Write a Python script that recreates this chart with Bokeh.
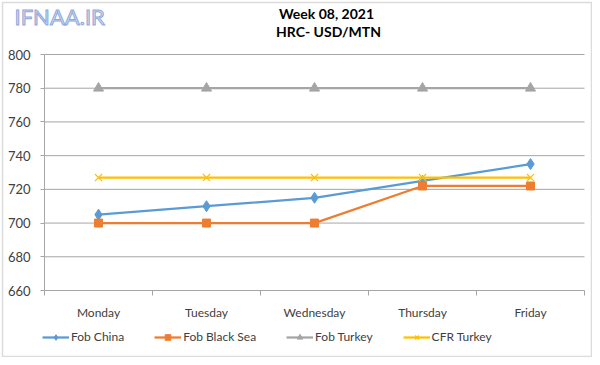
from bokeh.plotting import figure
from bokeh.models import (FixedTicker, Legend, LegendItem, Label, Range1d, LinearAxis,
                          BoxAnnotation)
from bokeh.embed import file_html
from bokeh.resources import INLINE

days = ["Monday", "Tuesday", "Wednesday", "Thursday", "Friday"]
fob_china = [705, 710, 715, 725, 735]
fob_black_sea = [700, 700, 700, 722, 722]
fob_turkey = [780, 780, 780, 780, 780]
cfr_turkey = [727, 727, 727, 727, 727]
y_ticks = [660, 680, 700, 720, 740, 760, 780, 800]

FONT = "Lato"
W, H = 592, 357
xs = [i + 0.5 for i in range(len(days))]
n = len(days)
y0, y1 = y_ticks[0], y_ticks[-1]

# plot frame covers the whole canvas; the chart area is placed inside via the ranges
px_x = 540 / n                     # px per category
px_y = 236 / (y1 - y0)             # px per unit
x_rng = Range1d(-44 / px_x, n + 8 / px_x)
y_rng = Range1d(y0 - 67 / px_y, y1 + 54 / px_y)

p = figure(width=W, height=H, output_backend="svg", toolbar_location=None,
           x_range=x_rng, y_range=y_rng, x_axis_location=None, y_axis_location=None,
           min_border=0)
p.outline_line_color = None
p.grid.visible = False

# chart border
p.add_layout(BoxAnnotation(left=2, right=W - 1, bottom=1, top=H - 2,
                           left_units="screen", right_units="screen",
                           bottom_units="screen", top_units="screen",
                           fill_alpha=0, line_color="#8c8c8c", line_width=1.5))

# horizontal gridlines
p.segment(x0=[0] * len(y_ticks), x1=[n] * len(y_ticks), y0=y_ticks, y1=y_ticks,
          line_color="#a6a6a6", line_width=1)

# x axis
xa = LinearAxis(fixed_location=y0, bounds=(0, n))
xa.ticker = FixedTicker(ticks=xs, minor_ticks=list(range(n + 1)))
xa.major_label_overrides = {x: d for x, d in zip(xs, days)}
xa.major_tick_line_color = None
xa.major_tick_out = 0
xa.minor_tick_out = 5
xa.minor_tick_in = 0
xa.minor_tick_line_color = "#a6a6a6"
xa.axis_line_color = "#a6a6a6"
xa.major_label_standoff = 9
xa.major_label_text_font = FONT
xa.major_label_text_font_size = "12px"
xa.major_label_text_color = "#404040"
p.add_layout(xa, "below")

# y axis
ya = LinearAxis(fixed_location=0, bounds=(y0, y1))
ya.ticker = FixedTicker(ticks=y_ticks)
ya.minor_tick_line_color = None
ya.major_tick_out = 4
ya.major_tick_in = 0
ya.major_tick_line_color = "#a6a6a6"
ya.axis_line_color = "#a6a6a6"
ya.major_label_standoff = 10
ya.major_label_text_font = FONT
ya.major_label_text_font_size = "13px"
ya.major_label_text_color = "#404040"
p.add_layout(ya, "left")

# series
r1l = p.line(xs, fob_china, line_color="#5B9BD5", line_width=2.25)
r1m = p.scatter(xs, fob_china, marker="diamond", size=11, color="#5B9BD5")
r2l = p.line(xs, fob_black_sea, line_color="#ED7D31", line_width=2.25)
r2m = p.scatter(xs, fob_black_sea, marker="square", size=8, color="#ED7D31")
r3l = p.line(xs, fob_turkey, line_color="#A5A5A5", line_width=2.25)
r3m = p.scatter(xs, fob_turkey, marker="triangle", size=10, color="#A5A5A5")
r4l = p.line(xs, cfr_turkey, line_color="#FFC000", line_width=2.25)
r4m = p.scatter(xs, cfr_turkey, marker="x", size=10, line_color="#FFC000", line_width=1.2)

legend = Legend(items=[
    LegendItem(label="Fob China", renderers=[r1l, r1m]),
    LegendItem(label="Fob Black Sea", renderers=[r2l, r2m]),
    LegendItem(label="Fob Turkey", renderers=[r3l, r3m]),
    LegendItem(label="CFR Turkey", renderers=[r4l, r4m]),
], orientation="horizontal", location=(42, 13), border_line_color=None,
   background_fill_alpha=0, glyph_width=27, glyph_height=14, label_standoff=2,
   spacing=30, padding=0, margin=0, label_height=14,
   label_text_font=FONT, label_text_font_size="12px", label_text_color="#404040")
p.add_layout(legend, "center")

# titles
p.add_layout(Label(x=326, y=H - 21, x_units="screen", y_units="screen",
                   text="Week 08, 2021", text_align="center", text_font=FONT,
                   text_font_size="14px", text_font_style="bold", text_color="#000000"))
p.add_layout(Label(x=328, y=H - 39, x_units="screen", y_units="screen",
                   text="HRC- USD/MTN", text_align="center", text_font=FONT,
                   text_font_size="14px", text_font_style="bold", text_color="#000000"))
p.add_layout(Label(x=14, y=H - 29, x_units="screen", y_units="screen",
                   text="IFNAA.IR", text_font=FONT, text_font_size="22px",
                   text_color="#D3DEF3", text_outline_color="#8EA8DA"))

open("out.html", "w").write(file_html(p, INLINE))
